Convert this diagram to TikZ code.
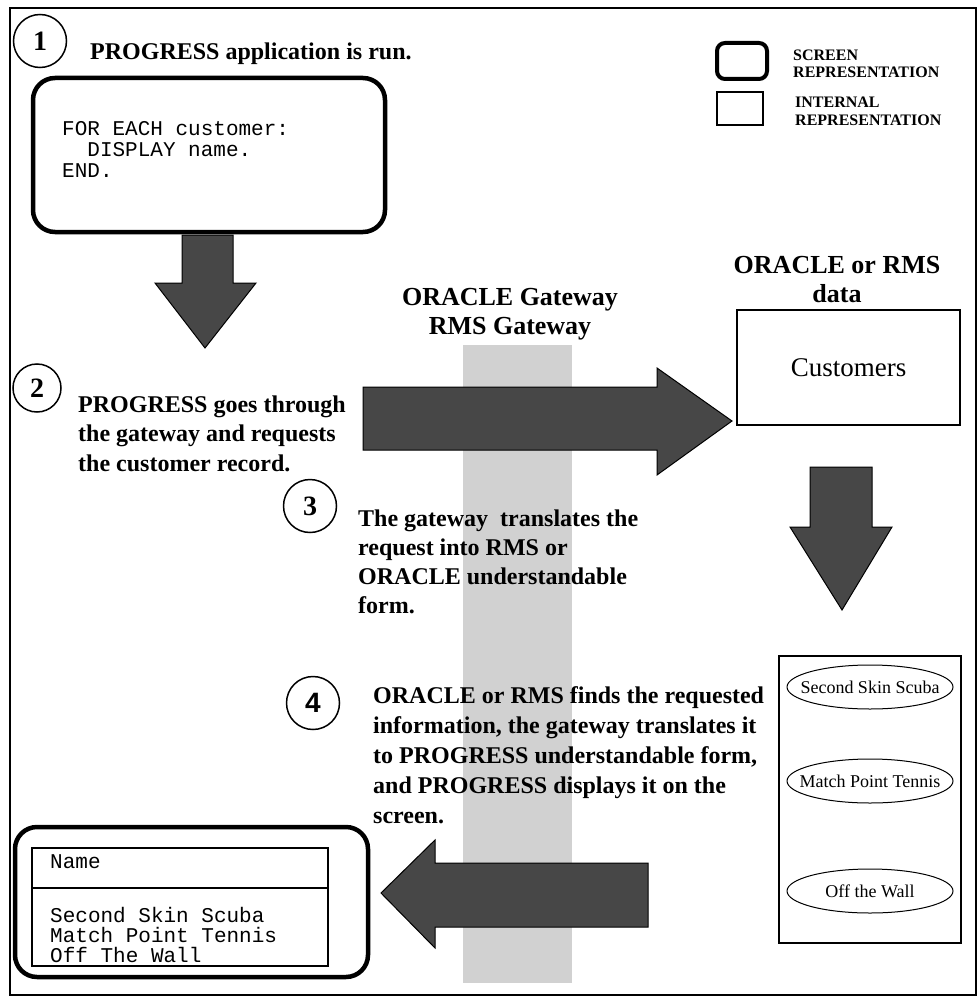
\documentclass[tikz,border=0pt]{standalone}
\usepackage{fontspec}
\usetikzlibrary{shapes.geometric}
\setmainfont{Liberation Serif}
\setmonofont{Liberation Mono}
\newfontfamily\numsans{Liberation Sans}
\begin{document}
\begin{tikzpicture}[x=1pt,y=-1pt,
  screenbox/.style={draw, line width=4.5pt, rounded corners=22pt, inner sep=0},
  internalbox/.style={draw, line width=1.3pt, inner sep=0},
  blockarrow/.style={draw=black, line width=1pt, fill=black!72},
  gatewayband/.style={fill=black!18},
  stepnum/.style={circle, draw, line width=1.5pt, inner sep=0, font=\fontsize{28}{28}\selectfont\bfseries},
  steptext/.style={font=\fontsize{24}{29.5}\selectfont\bfseries, align=left, anchor=base west, inner sep=0},
  headtext/.style={font=\fontsize{26}{29}\selectfont\bfseries, align=center, anchor=base, inner sep=0},
  legendtext/.style={font=\fontsize{16}{17.5}\selectfont\bfseries, align=left, anchor=base west, inner sep=0},
  codetext/.style={font=\fontsize{21}{21}\selectfont\ttfamily, align=left, anchor=base west, inner sep=0},
  rowtext/.style={font=\fontsize{21}{20}\selectfont\ttfamily, align=left, anchor=base west, inner sep=0},
  record/.style={ellipse, draw, line width=1pt, minimum width=166pt, minimum height=44pt, inner sep=0, font=\fontsize{18}{18}\selectfont}
]
\useasboundingbox (0,0) rectangle (978,1006);

% outer frame
\draw[line width=1.2pt] (10,8) rectangle (976,995);

% gateway band behind everything
\fill[gatewayband] (463,345) rectangle (572,983);

% step 1 (multi-line nodes are anchored at the baseline of their last line)
\node[stepnum, minimum size=53pt] (n1) at (40,41) {1};
\node[steptext] (t1) at (90,60) {PROGRESS application is run.};
\node[screenbox, minimum width=352pt, minimum height=154pt] (prog) at (209,155) {};
\node[codetext] (code) at (62,177) {FOR EACH customer:\\\hspace*{25.2pt}DISPLAY name.\\END.};

% legend
\node[screenbox, line width=4pt, rounded corners=8pt, minimum width=50pt, minimum height=36pt] (lgscreen) at (742,61) {};
\node[internalbox, minimum width=46pt, minimum height=33pt] (lginternal) at (740,108.5) {};
\node[legendtext] (lgscreentxt) at (793,78) {SCREEN\\REPRESENTATION};
\node[legendtext] (lginternaltxt) at (795,125) {INTERNAL\\REPRESENTATION};

% arrow from the program down to step 2
\path[blockarrow] (182,235) -- (233,235) -- (233,283) -- (256,283) -- (205,348)
  -- (155,283) -- (182,283) -- cycle;

% gateway heading
\node[headtext] (gwhead) at (510,334) {ORACLE Gateway\\RMS Gateway};

% step 2
\node[stepnum, minimum size=48pt] (n2) at (37,388) {2};
\node[steptext] (t2) at (78,471) {PROGRESS goes through\\the gateway and requests\\the customer record.};

% request arrow towards the data
\path[blockarrow] (363,387) -- (657,387) -- (657,368) -- (732,421) -- (657,475)
  -- (657,450) -- (363,450) -- cycle;

% data side
\node[headtext] (datahead) at (837,302) {ORACLE or RMS\\data};
\node[internalbox, minimum width=223pt, minimum height=115pt, font=\fontsize{27}{27}\selectfont] (cust) at (848.5,367.5) {Customers};

% arrow from data down to the records
\path[blockarrow] (810,467) -- (872,467) -- (872,527) -- (892,527) -- (842,610)
  -- (790,527) -- (810,527) -- cycle;

% step 3
\node[stepnum, minimum size=53pt] (n3) at (310,506) {3};
\node[steptext, font=\fontsize{24}{29}\selectfont\bfseries] (t3) at (358,613) {The gateway\ \ translates the\\request into RMS or\\ORACLE understandable\\form.};

% step 4
\node[stepnum, minimum size=53pt, font=\fontsize{28}{28}\selectfont\numsans\bfseries] (n4) at (313,703) {4};
\node[steptext, font=\fontsize{24}{30}\selectfont\bfseries] (t4) at (373,823) {ORACLE or RMS finds the requested\\information, the gateway translates it\\to PROGRESS understandable form,\\and PROGRESS displays it on the\\screen.};

% records found
\node[internalbox, minimum width=182pt, minimum height=287pt] (records) at (870,799.5) {};
\node[record] (r1) at (870,687) {\makebox[0pt]{Second Skin Scuba}};
\node[record] (r2) at (870,781) {\makebox[0pt]{Match Point Tennis}};
\node[record] (r3) at (870,891) {\makebox[0pt]{Off the Wall}};

% return arrow to the screen
\path[blockarrow] (648,863) -- (435,863) -- (435,840) -- (381,893) -- (435,948)
  -- (435,927) -- (648,927) -- cycle;

% output screen
\node[screenbox, minimum width=353pt, minimum height=150pt] (out) at (191.5,902) {};
\node[internalbox, minimum width=296pt, minimum height=118pt] (table) at (180,907) {};
\draw[line width=1.3pt] (table.west |- 0,888) -- (table.east |- 0,888);
\node[rowtext] (colname) at (50,868) {Name};
\node[rowtext] (rows) at (50,962) {Second Skin Scuba\\Match Point Tennis\\Off The Wall};
\end{tikzpicture}
\end{document}
